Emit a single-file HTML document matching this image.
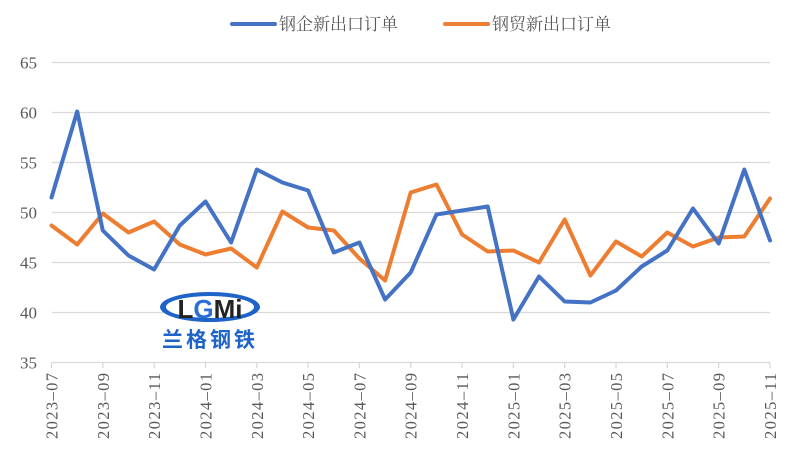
<!DOCTYPE html>
<html><head><meta charset="utf-8"><style>
html,body{margin:0;padding:0;background:#fff;width:788px;height:450px;overflow:hidden}
</style></head><body>
<svg id="s" width="788" height="450" xmlns="http://www.w3.org/2000/svg" font-family="'Liberation Serif','Noto Serif CJK SC',serif">
<rect width="788" height="450" fill="#fff"/>
<g id="grid"></g>
<g id="logo">
  <ellipse cx="210" cy="307" rx="50" ry="15" fill="#1e64c8"/>
  <ellipse cx="210" cy="307" rx="44" ry="11" fill="#fff"/>
  <text x="210" y="318" text-anchor="middle" font-family="'Liberation Sans',sans-serif" font-weight="bold" font-size="26" fill="#222">L<tspan fill="#2a6fd6">G</tspan>Mi</text>
  <text x="210" y="347" text-anchor="middle" font-family="'Noto Sans CJK SC',sans-serif" font-weight="bold" font-size="21" fill="#1e64c8" letter-spacing="3">兰格钢铁</text>
</g>
<g id="lines"></g>
<line x1="232" y1="24" x2="275" y2="24" stroke="#4472c4" stroke-width="4" stroke-linecap="round"/>
<text x="279" y="30" font-size="17" fill="#595959">钢企新出口订单</text>
<line x1="445" y1="24" x2="488" y2="24" stroke="#ed7d31" stroke-width="4" stroke-linecap="round"/>
<text x="492" y="30" font-size="17" fill="#595959">钢贸新出口订单</text>
</svg>
<script>
var NS="http://www.w3.org/2000/svg",s=document.getElementById('s');
function el(p,t,a,txt){var e=document.createElementNS(NS,t);for(var k in a)e.setAttribute(k,a[k]);if(txt)e.textContent=txt;p.appendChild(e);return e;}
var g=document.getElementById('grid'),L=document.getElementById('lines');
function Y(v){return 362.5-(v-35)*10;}
var x0=51.5,st=25.66;
for(var v=35;v<=65;v+=5){var y=Y(v);
 if(v>35)el(g,'line',{x1:52,x2:770,y1:y,y2:y,stroke:'#d9d9d9','stroke-width':1.3});
 el(g,'text',{x:37,y:y+6,'text-anchor':'end','font-size':17,fill:'#595959'},String(v));}
el(g,'line',{x1:52,x2:770,y1:362.5,y2:362.5,stroke:'#d9d9d9','stroke-width':1.3});
var months=[];for(var i=0;i<29;i++){var m=7+i,yr=2023+Math.floor((m-1)/12);m=((m-1)%12)+1;months.push(yr+'–'+(m<10?'0'+m:m));}
for(var i=0;i<29;i+=2){var x=x0+i*st;
 el(g,'line',{x1:x,x2:x,y1:362.5,y2:368,stroke:'#d9d9d9','stroke-width':1.3});
 el(g,'text',{x:0,y:0,transform:'translate('+(x+6)+',373) rotate(-90)','text-anchor':'end','font-size':16.5,'textLength':66,fill:'#595959'},months[i]);}
var b=[51.5,60.1,48.2,45.7,44.3,48.7,51.1,47.0,54.3,53.0,52.2,46.0,47.0,41.3,44.0,49.8,50.2,50.6,39.3,43.6,41.1,41.0,42.2,44.6,46.2,50.4,46.9,54.3,47.2];
var o=[48.7,46.8,49.9,48.0,49.1,46.8,45.8,46.4,44.5,50.1,48.5,48.2,45.4,43.2,52.0,52.8,47.8,46.1,46.2,45.0,49.3,43.7,47.1,45.6,48.0,46.6,47.5,47.6,51.4];
function pts(a){return a.map(function(v,i){return (x0+i*st).toFixed(1)+','+Y(v).toFixed(1)}).join(' ');}
el(L,'polyline',{points:pts(o),fill:'none',stroke:'#ed7d31','stroke-width':4,'stroke-linejoin':'round','stroke-linecap':'round'});
el(L,'polyline',{points:pts(b),fill:'none',stroke:'#4472c4','stroke-width':4,'stroke-linejoin':'round','stroke-linecap':'round'});
</script>
</body></html>
